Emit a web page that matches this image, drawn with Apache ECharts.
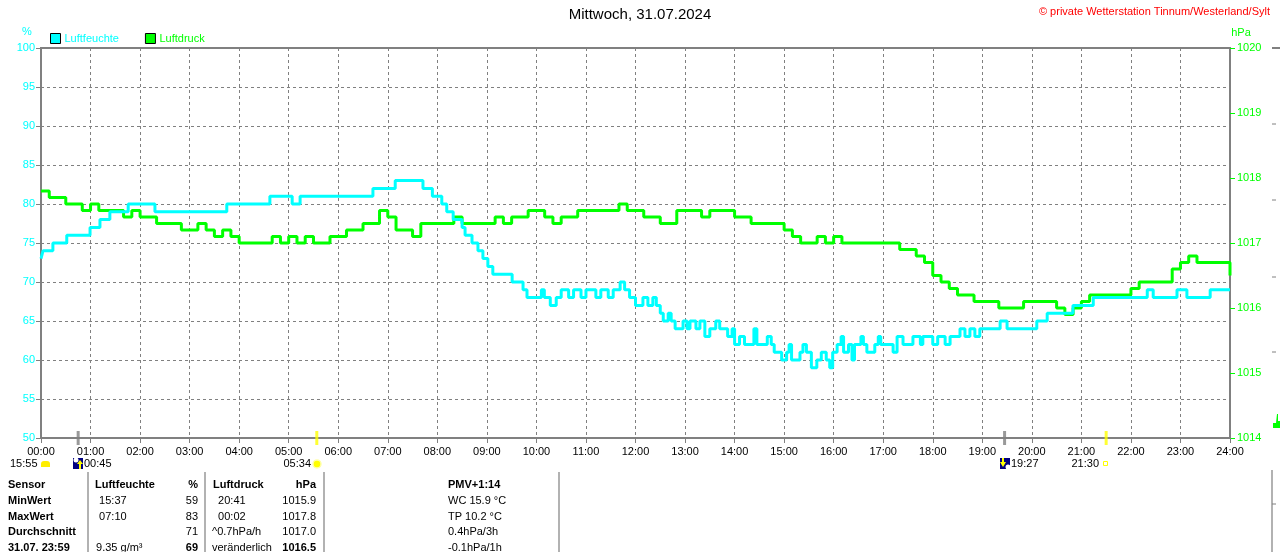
<!DOCTYPE html>
<html>
<head>
<meta charset="utf-8">
<script src="https://cdn.jsdelivr.net/npm/echarts@6/dist/echarts.min.js"></script>
<style>
  html, body { margin: 0; padding: 0; background: #fff; }
  #chart { width: 1280px; height: 552px; }
</style>
</head>
<body>
<div id="chart"></div>
<script>
// x-Achse: Stunden 0..24
var hourLabels = ['00:00','01:00','02:00','03:00','04:00','05:00','06:00','07:00','08:00','09:00','10:00','11:00','12:00',
                  '13:00','14:00','15:00','16:00','17:00','18:00','19:00','20:00','21:00','22:00','23:00','24:00'];

// Luftfeuchte: Zeitpunkt (h) an dem ein neuer Wert beginnt, und der Wert (%)
var humT = [0.00,0.04,0.24,0.52,0.99,1.19,1.39,1.76,2.30,3.75,4.62,5.07,5.23,6.70,7.15,7.71,7.90,8.09,8.19,8.32,
            8.50,8.56,8.70,8.82,8.92,9.02,9.12,9.51,9.73,9.81,10.10,10.16,10.28,10.40,10.50,10.65,10.75,10.90,11.00,11.20,
            11.30,11.45,11.55,11.69,11.78,11.88,12.00,12.15,12.25,12.35,12.42,12.50,12.56,12.66,12.72,12.80,12.96,13.04,13.10,13.22,
            13.30,13.40,13.50,13.62,13.70,13.86,13.95,14.00,14.10,14.20,14.39,14.45,14.66,14.74,14.80,14.95,15.05,15.10,15.15,15.32,
            15.38,15.45,15.55,15.66,15.75,15.85,15.92,15.98,16.07,16.15,16.20,16.30,16.37,16.42,16.55,16.60,16.67,16.83,16.90,16.95,
            17.20,17.28,17.40,17.60,17.75,17.80,18.00,18.10,18.25,18.35,18.55,18.65,18.75,18.85,18.95,19.36,19.50,20.10,20.31,20.83,
            21.24,22.33,22.45,22.93,23.13,23.60,24.00];
var humV = [73,74,75,76,77,78,79,80,79,80,81,80,81,82,83,82,81,80,79,78,
            77,76,75,74,73,72,71,70,69,68,69,68,67,68,69,68,69,68,69,68,
            69,68,69,70,69,68,67,68,67,68,67,66,65,66,65,64,65,64,65,64,
            65,63,64,65,64,63,64,62,63,62,64,62,63,62,61,60,61,62,60,61,
            62,61,59,60,61,60,59,61,62,63,61,62,60,62,63,62,61,62,63,62,
            61,63,62,63,62,63,62,63,62,63,64,63,64,63,64,65,64,65,66,67,
            68,69,68,69,68,69,69];

// Luftdruck alle 10 Minuten (hPa), 00:00 .. 24:00
var pressStep = 1 / 6;
var pressV = [1017.8,1017.7,1017.7,1017.6,1017.6,1017.5,1017.6,1017.5,1017.5,1017.5,1017.4,1017.5,
              1017.4,1017.4,1017.3,1017.3,1017.3,1017.2,1017.2,1017.3,1017.2,1017.1,1017.2,1017.1,
              1017.0,1017.0,1017.0,1017.0,1017.1,1017.0,1017.1,1017.0,1017.1,1017.0,1017.0,1017.1,
              1017.1,1017.2,1017.2,1017.3,1017.3,1017.5,1017.4,1017.2,1017.2,1017.1,1017.3,1017.3,
              1017.3,1017.3,1017.4,1017.3,1017.3,1017.3,1017.3,1017.4,1017.3,1017.4,1017.4,1017.5,
              1017.5,1017.4,1017.3,1017.4,1017.4,1017.5,1017.5,1017.5,1017.5,1017.5,1017.6,1017.5,
              1017.5,1017.4,1017.4,1017.3,1017.3,1017.5,1017.5,1017.5,1017.4,1017.5,1017.5,1017.5,
              1017.4,1017.4,1017.3,1017.3,1017.3,1017.3,1017.2,1017.1,1017.0,1017.0,1017.1,1017.0,
              1017.1,1017.0,1017.0,1017.0,1017.0,1017.0,1017.0,1017.0,1016.9,1016.9,1016.8,1016.7,
              1016.5,1016.4,1016.3,1016.2,1016.2,1016.1,1016.1,1016.1,1016.0,1016.0,1016.0,1016.1,
              1016.1,1016.1,1016.1,1016.0,1015.9,1016.0,1016.1,1016.2,1016.2,1016.2,1016.2,1016.2,
              1016.3,1016.4,1016.4,1016.4,1016.4,1016.6,1016.7,1016.8,1016.7,1016.7,1016.7,1016.7,
              1016.5];

// Sonne / Mond Auf- und Untergang
var eventT = [0.75, 5.567, 19.45, 21.5];
var eventC = ['#808080', '#ffff00', '#808080', '#ffff00'];

// Tabelle unter dem Diagramm
var tabRowY = [485, 501, 517, 532, 548];
var colSensor = ['Sensor', 'MinWert', 'MaxWert', 'Durchschnitt', '31.07. 23:59'];
var colHumTime = ['Luftfeuchte', '  15:37', '  07:10', '', ' 9.35 g/m³'];
var colHumVal = ['%', '59', '83', '71', '69'];
var colPressTime = ['Luftdruck', '  20:41', '  00:02', '^0.7hPa/h', 'veränderlich'];
var colPressVal = ['hPa', '1015.9', '1017.8', '1017.0', '1016.5'];
var colExtra = ['PMV+1:14', 'WC 15.9 °C', 'TP 10.2 °C', '0.4hPa/3h', '-0.1hPa/1h'];

var CYAN = '#00ffff', GREEN = '#00ff00', GRAY = '#808080';
var FONT = 'Liberation Sans, Arial, sans-serif';

var humData = humT.map(function (t, i) { return [t, humV[i]]; });
var pressData = pressV.map(function (v, i) { return [i * pressStep, v]; });
var eventData = eventT.map(function (t, i) {
    return { value: [t, 50], itemStyle: { color: eventC[i] } };
});

var chart = echarts.init(document.getElementById('chart'));

function txt(x, y, s, opt) {
    opt = opt || {};
    return {
        type: 'text', x: x, y: y, silent: true,
        style: {
            text: s, fill: opt.color || '#000', font: (opt.bold ? 'bold ' : '') + (opt.size || 11) + 'px ' + FONT,
            textAlign: opt.align || 'left', textVerticalAlign: 'middle'
        }
    };
}
function vline(x, y1, y2, color, w) {
    return { type: 'line', silent: true, shape: { x1: x, y1: y1, x2: x, y2: y2 }, style: { stroke: color, lineWidth: w } };
}

var graphics = [];
graphics.push(txt(640, 15, 'Mittwoch, 31.07.2024', { size: 15, align: 'center' }));
graphics.push(txt(1270, 12, '© private Wetterstation Tinnum/Westerland/Sylt', { color: '#ff0000', align: 'right' }));
graphics.push(txt(27, 32, '%', { color: CYAN, align: 'center' }));
graphics.push(txt(1241, 33, 'hPa', { color: GREEN, align: 'center' }));

// Zeile mit Auf-/Untergangszeiten
graphics.push(txt(10, 464, '15:55'));
graphics.push({ type: 'rect', silent: true, shape: { x: 41, y: 461, width: 9, height: 6, r: [3, 3, 0, 0] }, style: { fill: '#ffee00' } });
graphics.push({ type: 'rect', silent: true, shape: { x: 73, y: 458, width: 10, height: 11 }, style: { fill: '#000080' } });
graphics.push({ type: 'circle', silent: true, shape: { cx: 76, cy: 460, r: 2.5 }, style: { fill: '#ffffff' } });
graphics.push({ type: 'polygon', silent: true, shape: { points: [[80, 460], [77, 464], [79, 464], [79, 469], [81, 469], [81, 464], [83, 464]] }, style: { fill: '#ffff00' } });
graphics.push(txt(84, 464, '00:45'));
graphics.push(txt(311, 464, '05:34', { align: 'right' }));
graphics.push({ type: 'circle', silent: true, shape: { cx: 317, cy: 464, r: 4 }, style: { fill: '#ffff00', stroke: '#ffffaa', lineWidth: 1.5 } });
graphics.push({ type: 'rect', silent: true, shape: { x: 1000, y: 458, width: 10, height: 11 }, style: { fill: '#000080' } });
graphics.push({ type: 'polygon', silent: true, shape: { points: [[1003, 467], [1000, 462], [1002, 462], [1002, 458], [1004, 458], [1004, 462], [1006, 462]] }, style: { fill: '#ffff00' } });
graphics.push({ type: 'circle', silent: true, shape: { cx: 1008, cy: 467, r: 2.5 }, style: { fill: '#ffffff' } });
graphics.push(txt(1011, 464, '19:27'));
graphics.push(txt(1099, 464, '21:30', { align: 'right' }));
graphics.push({ type: 'rect', silent: true, shape: { x: 1103.5, y: 461.5, width: 4, height: 4 }, style: { fill: 'none', stroke: '#ffff00', lineWidth: 1 } });

// Tabelle
[88, 205, 324, 559].forEach(function (x) { graphics.push(vline(x, 472, 552, '#999999', 1.5)); });
tabRowY.forEach(function (y, i) {
    var head = i === 0;
    graphics.push(txt(8, y, colSensor[i], { bold: true }));
    graphics.push(txt(head ? 95 : 93, y, colHumTime[i], { bold: head }));
    graphics.push(txt(198, y, colHumVal[i], { bold: head || i === 4, align: 'right' }));
    graphics.push(txt(head ? 213 : 212, y, colPressTime[i], { bold: head }));
    graphics.push(txt(316, y, colPressVal[i], { bold: head || i === 4, align: 'right' }));
    graphics.push(txt(448, y, colExtra[i], { bold: head }));
});

// Rest des Nachbardiagramms am rechten Rand
graphics.push({ type: 'line', silent: true, shape: { x1: 1272, y1: 48, x2: 1280, y2: 48 }, style: { stroke: GRAY, lineWidth: 2 } });
[124, 200, 277, 352].forEach(function (y) {
    graphics.push({ type: 'line', silent: true, shape: { x1: 1272, y1: y, x2: 1276, y2: y }, style: { stroke: GRAY, lineWidth: 1 } });
});
graphics.push({ type: 'polygon', silent: true, shape: { points: [[1273, 428], [1273, 423], [1276, 423], [1277, 414], [1278, 414], [1278, 421], [1280, 421], [1280, 428]] }, style: { fill: GREEN } });
graphics.push(vline(1272, 470, 552, '#999999', 1.5));
graphics.push({ type: 'line', silent: true, shape: { x1: 1272, y1: 504, x2: 1276, y2: 504 }, style: { stroke: GRAY, lineWidth: 1 } });

var option = {
    backgroundColor: '#ffffff',
    animation: false,
    textStyle: { fontFamily: FONT },
    legend: {
        left: 50, top: 33, padding: 0,
        itemWidth: 10, itemHeight: 10, itemGap: 26,
        icon: 'rect',
        selectedMode: false,
        textStyle: { fontSize: 11, fontFamily: FONT, padding: [0, 0, 0, -1] },
        data: [
            { name: 'Luftfeuchte', itemStyle: { color: CYAN, borderColor: '#000', borderWidth: 1 }, textStyle: { color: CYAN } },
            { name: 'Luftdruck', itemStyle: { color: GREEN, borderColor: '#000', borderWidth: 1 }, textStyle: { color: GREEN } }
        ]
    },
    grid: {
        left: 41, right: 50, top: 48, bottom: 114,
        show: true, borderColor: GRAY, borderWidth: 2, backgroundColor: '#ffffff'
    },
    xAxis: {
        type: 'value', min: 0, max: 24, interval: 1,
        axisLine: { lineStyle: { color: GRAY, width: 2 } },
        axisTick: { length: 5, lineStyle: { color: GRAY } },
        axisLabel: {
            color: '#000', fontSize: 11, margin: 8,
            formatter: function (v) { return hourLabels[v]; }
        },
        splitLine: { show: true, lineStyle: { color: GRAY, type: [3, 3], width: 1 } }
    },
    yAxis: [{
        type: 'value', min: 50, max: 100, interval: 5,
        axisLine: { show: true, lineStyle: { color: GRAY, width: 2 } },
        axisTick: { show: true, length: 5, lineStyle: { color: GRAY } },
        axisLabel: { color: CYAN, fontSize: 11, margin: 6 },
        splitLine: { show: true, lineStyle: { color: GRAY, type: [3, 3], width: 1 } }
    }, {
        type: 'value', min: 1014, max: 1020, interval: 1, position: 'right',
        axisLine: { show: true, lineStyle: { color: GRAY, width: 2 } },
        axisTick: { show: true, length: 5, lineStyle: { color: GREEN } },
        axisLabel: { color: GREEN, fontSize: 11, margin: 7, formatter: function (v) { return String(v); } },
        splitLine: { show: false }
    }],
    series: [{
        name: 'Luftdruck', type: 'line', yAxisIndex: 1, step: 'end',
        data: pressData, showSymbol: false, symbol: 'none',
        lineStyle: { color: GREEN, width: 3 }, itemStyle: { color: GREEN }, z: 3
    }, {
        name: 'Luftfeuchte', type: 'line', yAxisIndex: 0, step: 'end',
        data: humData, showSymbol: false, symbol: 'none',
        lineStyle: { color: CYAN, width: 3 }, itemStyle: { color: CYAN }, z: 4
    }, {
        name: 'Ereignisse', type: 'scatter', yAxisIndex: 0,
        data: eventData, symbol: 'rect', symbolSize: [3, 14], clip: false, z: 5, silent: true
    }],
    graphic: graphics
};
chart.setOption(option);
</script>
</body>
</html>
